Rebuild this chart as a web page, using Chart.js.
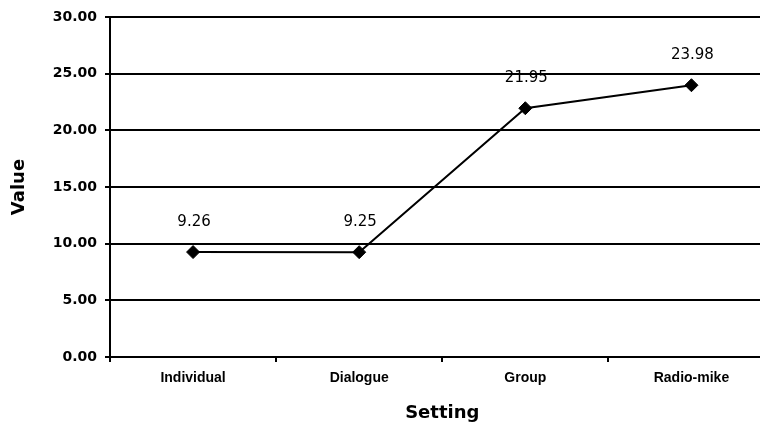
<!DOCTYPE html>
<html>
<head>
<meta charset="utf-8">
<script src="https://cdn.jsdelivr.net/npm/chart.js@4"></script>
<style>
  html, body { margin: 0; padding: 0; background: #fff; overflow: hidden; }
  #wrap { width: 760px; height: 430px; overflow: hidden; }
</style>
</head>
<body>
<div id="wrap"><canvas id="chart" width="782" height="430"></canvas></div>
<script>
const settings = ["Individual", "Dialogue", "Group", "Radio-mike"];
const values = [9.26, 9.25, 21.95, 23.98];
const valueLabels = ["9.26", "9.25", "21.95", "23.98"];

// draws the number above every point
const pointLabels = {
    id: "pointLabels",
    afterDatasetsDraw(chart) {
        const ctx = chart.ctx;
        const meta = chart.getDatasetMeta(0);
        ctx.save();
        ctx.font = "15px 'DejaVu Sans'";
        ctx.fillStyle = "#000";
        ctx.textAlign = "center";
        ctx.textBaseline = "middle";
        meta.data.forEach((pt, i) => {
            ctx.fillText(valueLabels[i], pt.x + 1, pt.y - 30);
        });
        ctx.restore();
    }
};

const titleFont = { family: "DejaVu Sans", size: 18, weight: "bold" };

new Chart(document.getElementById("chart"), {
    type: "line",
    data: {
        labels: settings,
        datasets: [{
            data: values,
            borderColor: "#000",
            borderWidth: 2,
            pointStyle: "rectRot",
            pointRadius: 6.5,
            pointBackgroundColor: "#000",
            pointBorderColor: "#000",
            pointBorderWidth: 1,
            tension: 0
        }]
    },
    options: {
        responsive: false,
        animation: false,
        layout: { padding: { top: 17, left: 0, right: 0, bottom: 0 } },
        plugins: {
            legend: { display: false },
            tooltip: { enabled: false }
        },
        scales: {
            x: {
                offset: true,
                grid: { drawOnChartArea: false, color: "#000", lineWidth: 2, tickLength: 5, offset: true },
                border: { color: "#000", width: 2 },
                ticks: { color: "#000", font: { family: "Liberation Sans", size: 14, weight: "bold" }, padding: 8, maxRotation: 0 },
                title: { display: true, text: "Setting", color: "#000", font: titleFont, padding: { top: 4, bottom: 6 } },
                afterFit(scale) { scale.height = 73; }
            },
            y: {
                min: 0,
                max: 30,
                ticks: { stepSize: 5, color: "#000", font: { family: "DejaVu Sans", size: 14, weight: "bold" }, padding: 8, callback: v => v.toFixed(2) },
                grid: { color: "#000", lineWidth: 2, tickLength: 5 },
                border: { color: "#000", width: 2 },
                title: { display: true, text: "Value", color: "#000", font: titleFont, padding: { top: 9, bottom: 4 } },
                afterFit(scale) { scale.width = 110; }
            }
        }
    },
    plugins: [pointLabels]
});
</script>
</body>
</html>
